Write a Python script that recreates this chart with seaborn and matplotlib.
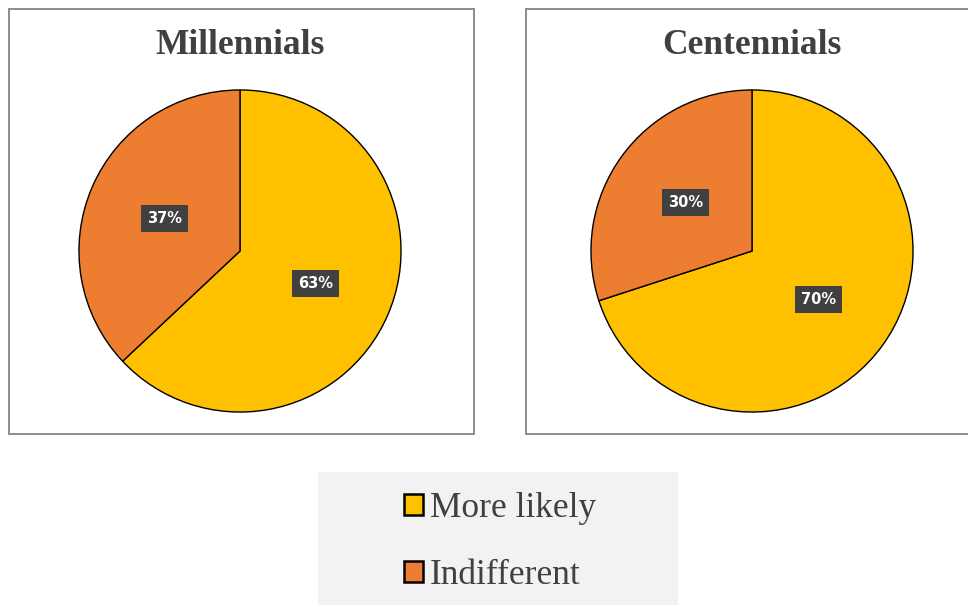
import matplotlib
matplotlib.use("Agg")
import matplotlib.pyplot as plt
import seaborn as sns
from matplotlib.patches import Rectangle, Patch

sns.set_theme(style="white")
plt.rcParams['font.family'] = ['DejaVu Sans']

categories = ["More likely", "Indifferent"]
groups = ["Millennials", "Centennials"]
millennials = [63, 37]
centennials = [70, 30]
values = [millennials, centennials]
colors = ["#FFC000", "#ED7D31"]

W, H = 968, 605
fig = plt.figure(figsize=(W / 100, H / 100), dpi=100)
fig.patch.set_facecolor("white")

def fx(x):
    return x / W

def fy(y):
    return 1 - y / H

# panel frames (pixel coords: left, top, right, bottom)
panels = [(9, 9, 474, 434), (526, 9, 975, 434)]
centers = [(240, 251), (752, 251)]
R = 161
title_y = 46

for (l, t, r, b), (cx, cy), title, vals in zip(panels, centers, groups, values):
    fig.patches.append(Rectangle((fx(l), fy(b)), fx(r - l), (b - t) / H,
                                 transform=fig.transFigure, facecolor="white",
                                 edgecolor="#8c8c8c", linewidth=1.4, zorder=0))
    ax = fig.add_axes([fx(cx - R - 1), fy(cy + R + 1), fx(2 * R + 2), (2 * R + 2) / H])
    ax.set_zorder(3)
    ax.patch.set_visible(False)
    wedges, texts, autotexts = ax.pie(
        vals, colors=colors, startangle=90, counterclock=False,
        autopct=lambda p: f"{p:.0f}%", pctdistance=0.51,
        wedgeprops=dict(edgecolor="black", linewidth=1.0),
        textprops=dict(color="white", fontsize=10.5, fontweight="bold"))
    for at in autotexts:
        at.set_bbox(dict(boxstyle="square,pad=0.42", facecolor="#404040",
                         edgecolor="none"))
    ax.set_xlim(-1.006, 1.006)
    ax.set_ylim(-1.006, 1.006)
    ax.set_aspect("equal")
    ax.axis("off")
    fig.text(fx(cx), fy(title_y), title,
             ha="center", va="center", fontsize=25.5, fontweight="bold",
             family="Liberation Serif", color="#404040", zorder=4)

# legend background
fig.patches.append(Rectangle((fx(318), 0), fx(360), (605 - 472) / H,
                             transform=fig.transFigure, facecolor="#f2f2f2",
                             edgecolor="none", zorder=0))
handles = [Patch(facecolor=c, edgecolor="black", linewidth=1.8) for c in colors]
leg = fig.legend(handles, categories, loc="center", bbox_to_anchor=(fx(500), fy(542)),
                 frameon=False, prop=dict(family="Liberation Serif", size=25.5),
                 labelcolor="#404040", handlelength=0.55, handleheight=0.55,
                 handletextpad=0.2, labelspacing=0.95)
leg.set_zorder(5)

fig.savefig("out.png", dpi=100)
